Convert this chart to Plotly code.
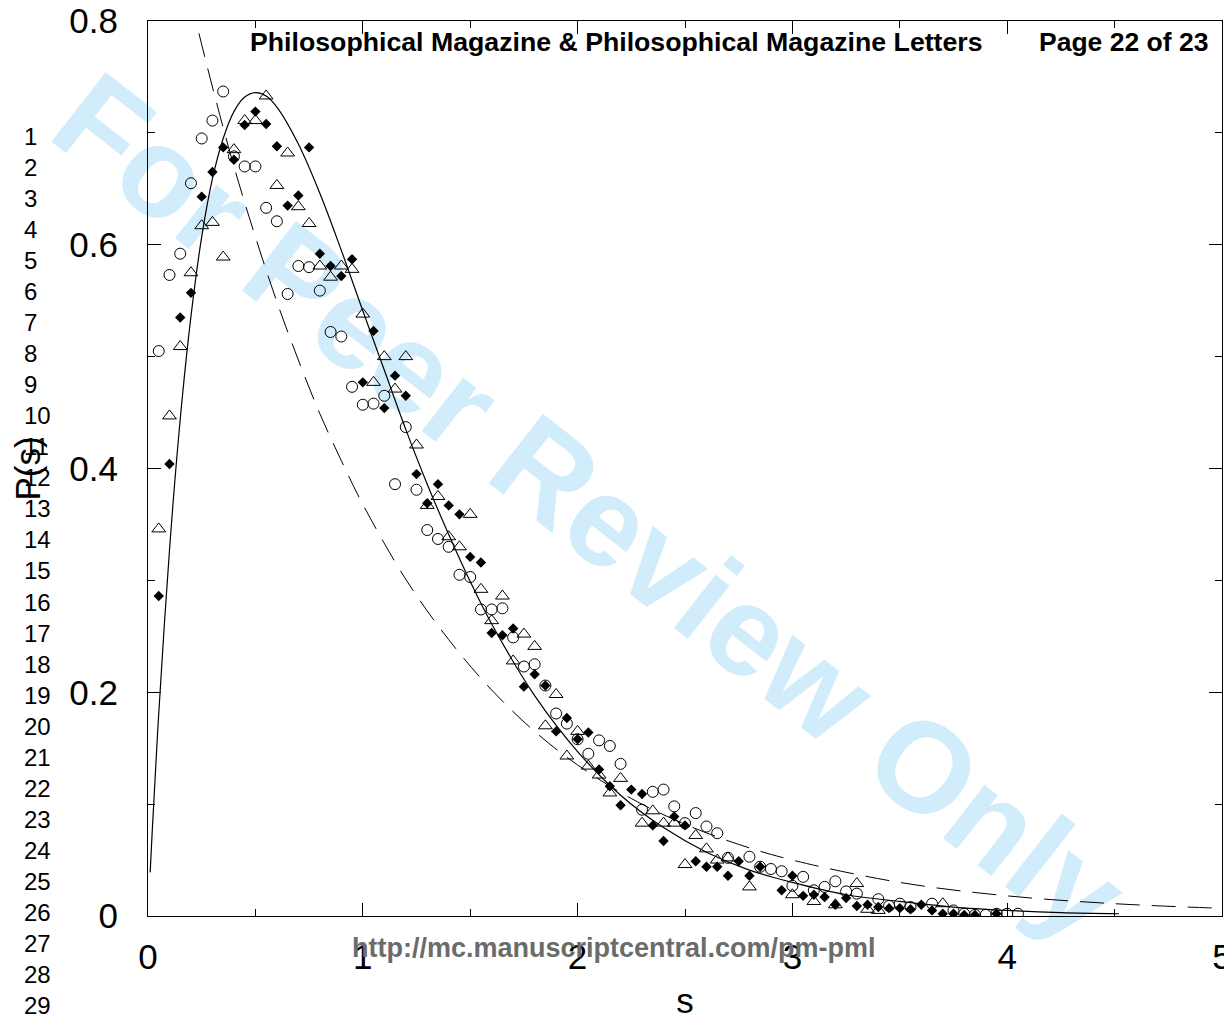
import plotly.graph_objects as go

# ---------------- data ----------------
diamond_s = [0.05, 0.10, 0.15, 0.20, 0.25, 0.30, 0.35, 0.40, 0.45, 0.50,
             0.55, 0.60, 0.65, 0.70, 0.75, 0.80, 0.85, 0.90, 0.95, 1.00,
             1.05, 1.10, 1.15, 1.20, 1.25, 1.30, 1.35, 1.40, 1.45, 1.50,
             1.55, 1.60, 1.65, 1.70, 1.75, 1.80, 1.85, 1.90, 1.95, 2.00,
             2.05, 2.10, 2.15, 2.20, 2.25, 2.30, 2.35, 2.40, 2.45, 2.50,
             2.55, 2.60, 2.65, 2.70, 2.75, 2.80, 2.85, 2.95, 3.00, 3.05,
             3.10, 3.15, 3.20, 3.25, 3.30, 3.35, 3.40, 3.45, 3.50, 3.55,
             3.60, 3.65, 3.70, 3.75, 3.80, 3.85, 3.95]
diamond_p = [0.286, 0.404, 0.535, 0.557, 0.643, 0.665, 0.687, 0.676, 0.707, 0.719,
             0.708, 0.688, 0.635, 0.644, 0.687, 0.592, 0.581, 0.572, 0.587, 0.477,
             0.523, 0.454, 0.483, 0.465, 0.395, 0.369, 0.386, 0.367, 0.359, 0.321,
             0.316, 0.253, 0.251, 0.257, 0.205, 0.216, 0.206, 0.165, 0.177, 0.158,
             0.164, 0.131, 0.116, 0.099, 0.113, 0.109, 0.081, 0.067, 0.089, 0.081,
             0.049, 0.044, 0.044, 0.036, 0.049, 0.036, 0.044, 0.023, 0.036, 0.018,
             0.019, 0.017, 0.010, 0.016, 0.009, 0.010, 0.008, 0.007, 0.007, 0.006,
             0.010, 0.005, 0.002, 0.002, 0.001, 0.001, 0.002]

circle_s = [0.05, 0.10, 0.15, 0.20, 0.25, 0.30, 0.35, 0.40, 0.45, 0.50,
            0.55, 0.60, 0.65, 0.70, 0.75, 0.80, 0.85, 0.90, 0.95, 1.00,
            1.05, 1.10, 1.15, 1.20, 1.25, 1.30, 1.35, 1.40, 1.45, 1.50,
            1.55, 1.60, 1.65, 1.70, 1.75, 1.80, 1.85, 1.90, 1.95, 2.00,
            2.05, 2.10, 2.15, 2.20, 2.30, 2.35, 2.40, 2.45, 2.50, 2.55,
            2.60, 2.65, 2.70, 2.80, 2.85, 2.90, 2.95, 3.00, 3.05, 3.10,
            3.15, 3.20, 3.25, 3.30, 3.40, 3.45, 3.50, 3.55, 3.65, 3.75,
            3.80, 3.85, 3.90, 3.95, 4.00, 4.05]
circle_p = [0.505, 0.573, 0.592, 0.655, 0.695, 0.711, 0.737, 0.679, 0.670, 0.670,
            0.633, 0.621, 0.556, 0.581, 0.580, 0.559, 0.522, 0.518, 0.473, 0.457,
            0.458, 0.465, 0.386, 0.437, 0.381, 0.345, 0.337, 0.330, 0.305, 0.303,
            0.274, 0.274, 0.275, 0.249, 0.223, 0.225, 0.206, 0.181, 0.172, 0.158,
            0.145, 0.157, 0.152, 0.136, 0.095, 0.111, 0.113, 0.098, 0.083, 0.092,
            0.080, 0.074, 0.052, 0.053, 0.044, 0.042, 0.040, 0.027, 0.035, 0.023,
            0.026, 0.031, 0.022, 0.020, 0.015, 0.009, 0.011, 0.008, 0.011, 0.005,
            0.002, 0.001, 0.001, 0.002, 0.002, 0.002]

triangle_s = [0.05, 0.10, 0.15, 0.20, 0.25, 0.30, 0.35, 0.40, 0.45, 0.50,
              0.55, 0.60, 0.65, 0.70, 0.75, 0.80, 0.85, 0.90, 0.95, 1.00,
              1.05, 1.10, 1.15, 1.20, 1.25, 1.30, 1.35, 1.40, 1.45, 1.50,
              1.55, 1.60, 1.65, 1.70, 1.75, 1.80, 1.85, 1.90, 1.95, 2.00,
              2.05, 2.10, 2.15, 2.20, 2.30, 2.35, 2.40, 2.45, 2.50, 2.55,
              2.60, 2.65, 2.70, 2.80, 3.00, 3.10, 3.20, 3.30, 3.35, 3.40,
              3.70]
triangle_p = [0.346, 0.447, 0.509, 0.575, 0.617, 0.620, 0.589, 0.685, 0.711, 0.711,
              0.733, 0.653, 0.682, 0.634, 0.619, 0.581, 0.571, 0.581, 0.578, 0.538,
              0.477, 0.500, 0.471, 0.500, 0.421, 0.367, 0.375, 0.339, 0.330, 0.359,
              0.292, 0.264, 0.286, 0.228, 0.252, 0.241, 0.170, 0.198, 0.143, 0.165,
              0.134, 0.126, 0.110, 0.123, 0.083, 0.094, 0.083, 0.083, 0.046, 0.072,
              0.060, 0.050, 0.052, 0.026, 0.019, 0.013, 0.010, 0.029, 0.006, 0.005,
              0.011]

# solid curve
solid_s = [0.01, 0.02, 0.05, 0.10, 0.15, 0.20, 0.25, 0.30, 0.35, 0.40,
           0.45, 0.50, 0.55, 0.60, 0.70, 0.80, 0.90, 1.00, 1.10, 1.20,
           1.30, 1.40, 1.50, 1.60, 1.80, 2.00, 2.20, 2.40, 2.60, 2.80,
           3.00, 3.25, 3.50, 3.75, 4.00, 4.25, 4.52]
solid_p = [0.039, 0.077, 0.181, 0.327, 0.444, 0.536, 0.607, 0.659, 0.695, 0.719,
           0.732, 0.736, 0.733, 0.723, 0.690, 0.646, 0.595, 0.541, 0.488, 0.435,
           0.386, 0.341, 0.299, 0.261, 0.197, 0.147, 0.108, 0.079, 0.057, 0.041,
           0.030, 0.019, 0.013, 0.008, 0.005, 0.003, 0.002]

# dashed curve
dashed_s = [0.237, 0.30, 0.40, 0.50, 0.60, 0.70, 0.80, 0.90, 1.00, 1.20,
            1.40, 1.60, 1.80, 2.00, 2.25, 2.50, 2.75, 3.00, 3.50, 4.00,
            4.50, 4.98]
dashed_p = [0.789, 0.741, 0.670, 0.607, 0.549, 0.497, 0.449, 0.407, 0.368, 0.301,
            0.247, 0.202, 0.165, 0.135, 0.105, 0.082, 0.064, 0.050, 0.030, 0.018,
            0.011, 0.007]

x_ticks = [0, 1, 2, 3, 4, 5]
y_ticks = [0, 0.2, 0.4, 0.6, 0.8]
line_numbers = [str(i) for i in range(1, 30)]

header_left = "Philosophical Magazine & Philosophical Magazine Letters"
header_right = "Page 22 of 23"
footer = "http://mc.manuscriptcentral.com/pm-pml"
watermark = "For Peer Review Only"

# ---------------- layout geometry ----------------
# The page body has an 8px default margin, so the figure is drawn 8px
# smaller and all positions are expressed in window pixels minus 8.
OFF = 8
W, H = 1232 - OFF, 1020 - OFF
PLOT_L, PLOT_R, PLOT_T, PLOT_B = 148, 1222, 21, 916   # window pixels
ML, MT = PLOT_L - OFF, PLOT_T - OFF
MR, MB = W - (PLOT_R - OFF), H - (PLOT_B - OFF)
PW, PH = PLOT_R - PLOT_L, PLOT_B - PLOT_T
FONT = "Liberation Sans, Arial, Helvetica, sans-serif"


def fx(px):
    return (px - PLOT_L) / PW


def fy(py):
    return (PLOT_B - py) / PH


fig = go.Figure()

fig.add_trace(go.Scatter(x=dashed_s, y=dashed_p, mode="lines", line_shape="spline",
                         line=dict(color="black", width=1, dash="24px,12px"),
                         showlegend=False, hoverinfo="skip"))
fig.add_trace(go.Scatter(x=solid_s, y=solid_p, mode="lines", line_shape="spline",
                         line=dict(color="black", width=1.2),
                         showlegend=False, hoverinfo="skip"))
fig.add_trace(go.Scatter(x=circle_s, y=circle_p, mode="markers",
                         marker=dict(symbol="circle-open", size=11, color="black",
                                     line=dict(width=1, color="black")),
                         showlegend=False))
fig.add_trace(go.Scatter(x=triangle_s, y=triangle_p, mode="markers",
                         marker=dict(symbol="triangle-up-open", size=12, color="black",
                                     line=dict(width=1, color="black")),
                         showlegend=False))
fig.add_trace(go.Scatter(x=diamond_s, y=diamond_p, mode="markers",
                         marker=dict(symbol="diamond", size=8, color="black",
                                     line=dict(width=0)),
                         showlegend=False))

axis_common = dict(showline=True, linecolor="black", linewidth=1.2, mirror="ticks",
                   ticks="inside", ticklen=13, tickwidth=1, tickcolor="black",
                   showgrid=False, zeroline=False, ticklabeloverflow="allow",
                   tickfont=dict(family=FONT, size=35, color="black"))

fig.update_xaxes(range=[0, 5], tickmode="array", tickvals=x_ticks,
                 ticktext=[str(v) for v in x_ticks],
                 minor=dict(ticks="inside", ticklen=7, tickwidth=1, tickcolor="black",
                            tickmode="linear", tick0=0, dtick=0.5),
                 ticklabelstandoff=10,
                 title=dict(text="s", font=dict(family=FONT, size=35, color="black"),
                            standoff=14),
                 **axis_common)
fig.update_yaxes(range=[0, 0.8], tickmode="array", tickvals=y_ticks,
                 ticktext=["0", "0.2", "0.4", "0.6", "0.8"],
                 minor=dict(ticks="inside", ticklen=7, tickwidth=1, tickcolor="black",
                            tickmode="linear", tick0=0, dtick=0.1),
                 ticklabelstandoff=22,
                 title=dict(text="P(s)", font=dict(family=FONT, size=35, color="black"),
                            standoff=30),
                 **axis_common)

# watermark as a labelled, invisible line shape drawn beneath the data
fig.add_shape(type="line", xref="paper", yref="paper",
              x0=fx(100), y0=fy(105), x1=fx(1096), y1=fy(889),
              line=dict(color="rgba(0,0,0,0)", width=0), layer="below",
              label=dict(text=watermark, textposition="middle", yanchor="middle",
                         textangle=38,
                         font=dict(family=FONT, size=128, color="#d1edfb", weight="bold")))

annotations = []
for i, t in enumerate(line_numbers):
    annotations.append(dict(text=t, x=fx(22), y=fy(136 + i * 31.07), xref="paper", yref="paper",
                            xanchor="left", yanchor="middle", showarrow=False,
                            font=dict(family=FONT, size=24, color="black")))
annotations.append(dict(text="<b>" + header_left + "</b>", x=fx(616), y=fy(42),
                        xref="paper", yref="paper", xanchor="center", yanchor="middle",
                        showarrow=False, font=dict(family=FONT, size=26.7, color="black")))
annotations.append(dict(text="<b>" + header_right + "</b>", x=fx(1210), y=fy(42),
                        xref="paper", yref="paper", xanchor="right", yanchor="middle",
                        showarrow=False, font=dict(family=FONT, size=26.5, color="black")))
annotations.append(dict(text="<b>" + footer + "</b>", x=fx(614), y=fy(948),
                        xref="paper", yref="paper", xanchor="center", yanchor="middle",
                        showarrow=False, font=dict(family=FONT, size=27, color="#6b6b6b")))

fig.update_layout(width=W, height=H, margin=dict(l=ML, r=MR, t=MT, b=MB, autoexpand=False),
                  paper_bgcolor="white", plot_bgcolor="rgba(0,0,0,0)",
                  showlegend=False, annotations=annotations,
                  font=dict(family=FONT, color="black"))

fig.write_html("out.html")
